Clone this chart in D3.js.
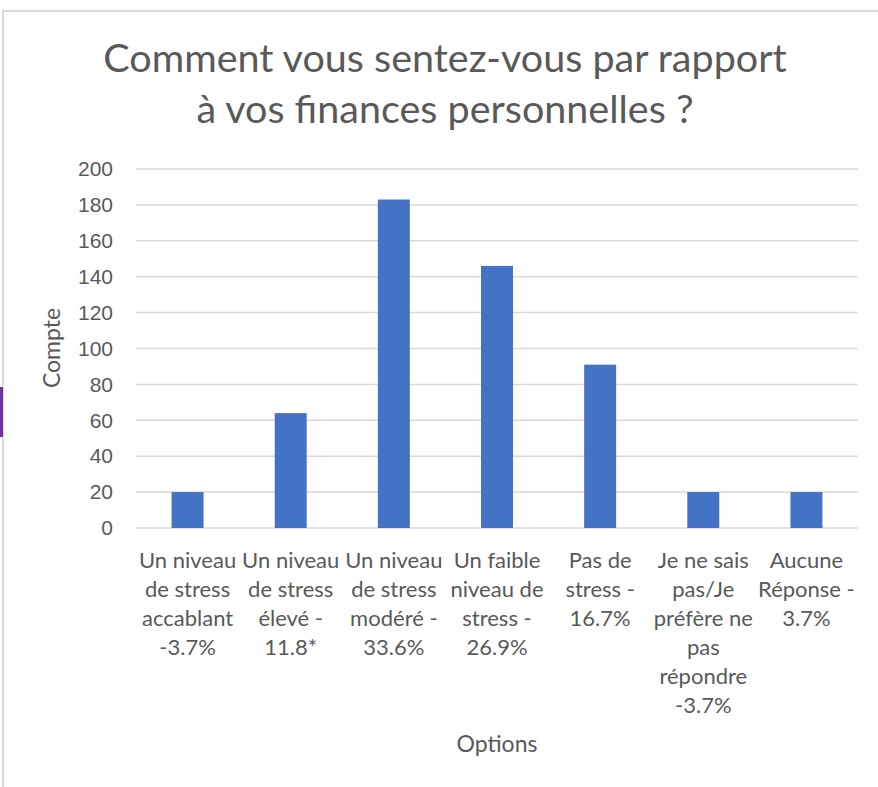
<!DOCTYPE html>
<html lang="fr">
<head>
  <meta charset="UTF-8" />
  <title>Finances personnelles</title>
  <script src="https://d3js.org/d3.v7.min.js"></script>
  <style>
    body {
      margin: 0;
      background-color: #fff;
      font-family: Lato, "Open Sans", sans-serif;
    }

    .grid line {
      stroke: #d9d9d9;
      stroke-width: 1.5px;
    }

    .axis text {
      fill: #595959;
      font-size: 22px;
    }

    .ticks text {
      font-size: 21px;
    }

    .bar {
      fill: #4472c4;
    }
  </style>
</head>
<body>
  <svg id="chart" width="878" height="787"></svg>

  <script>
    // lignes de chaque étiquette de catégorie
    const categories = [
      ["Un niveau", "de stress", "accablant", "-3.7%"],
      ["Un niveau", "de stress", "élevé -", "11.8*"],
      ["Un niveau", "de stress", "modéré -", "33.6%"],
      ["Un faible", "niveau de", "stress -", "26.9%"],
      ["Pas de", "stress -", "16.7%"],
      ["Je ne sais", "pas/Je", "préfère ne", "pas", "répondre", "-3.7%"],
      ["Aucune", "Réponse -", "3.7%"]
    ];
    const values = [20, 64, 183, 146, 91, 20, 20];
    const yTicks = [0, 20, 40, 60, 80, 100, 120, 140, 160, 180, 200];
    const titleLines = ["Comment vous sentez-vous par rapport", "à vos finances personnelles ?"];

    const svg = d3.select("#chart");
    const margin = { top: 169, right: 20, bottom: 259, left: 136 };
    const width = 878 - margin.left - margin.right;
    const height = 787 - margin.top - margin.bottom;

    // cadre du graphique
    svg.append("path")
      .attr("d", "M3,787 V11 H878")
      .attr("fill", "none")
      .attr("stroke", "#d9d9d9")
      .attr("stroke-width", 2);
    svg.append("rect")
      .attr("x", 0).attr("y", 387)
      .attr("width", 3).attr("height", 50)
      .attr("fill", "#7030a0");

    const g = svg.append("g")
      .attr("transform", `translate(${margin.left},${margin.top})`);

    const x = d3.scaleBand()
      .domain(d3.range(categories.length))
      .range([0, width])
      .paddingInner(0.69)
      .paddingOuter(0.345);

    const y = d3.scaleLinear().domain([0, 200]).range([height, 0]);

    g.append("g")
      .attr("class", "grid")
      .selectAll("line")
      .data(yTicks)
      .join("line")
      .attr("x1", 0)
      .attr("x2", width)
      .attr("y1", d => y(d))
      .attr("y2", d => y(d));

    g.append("g")
      .attr("class", "axis ticks")
      .call(d3.axisLeft(y).tickValues(yTicks).tickSize(0).tickPadding(23))
      .call(a => a.select(".domain").remove())
      .selectAll("text")
      .style("font-family", "inherit");

    g.selectAll("rect.bar")
      .data(values)
      .join("rect")
      .attr("class", "bar")
      .attr("x", (d, i) => x(i))
      .attr("width", x.bandwidth())
      .attr("y", d => y(d))
      .attr("height", d => height - y(d));

    // étiquettes de catégorie sur plusieurs lignes
    const step = width / categories.length;
    const labels = g.append("g")
      .attr("class", "axis")
      .selectAll("text")
      .data(categories)
      .join("text")
      .attr("text-anchor", "middle")
      .attr("transform", (d, i) => `translate(${step * i + step / 2},${height + 40})`);
    labels.selectAll("tspan")
      .data(d => d)
      .join("tspan")
      .attr("x", 0)
      .attr("y", (d, i) => i * 29)
      .text(d => d);

    svg.append("text")
      .attr("transform", "translate(60,348) rotate(-90)")
      .attr("text-anchor", "middle")
      .attr("fill", "#595959")
      .style("font-size", "23px")
      .text("Compte");

    svg.append("text")
      .attr("x", 497)
      .attr("y", 752)
      .attr("text-anchor", "middle")
      .attr("fill", "#595959")
      .style("font-size", "23px")
      .text("Options");

    svg.append("g")
      .selectAll("text")
      .data(titleLines)
      .join("text")
      .attr("x", 445)
      .attr("y", (d, i) => 72 + i * 51)
      .attr("text-anchor", "middle")
      .attr("fill", "#595959")
      .style("font-size", "39.5px")
      .text(d => d);
  </script>
</body>
</html>
